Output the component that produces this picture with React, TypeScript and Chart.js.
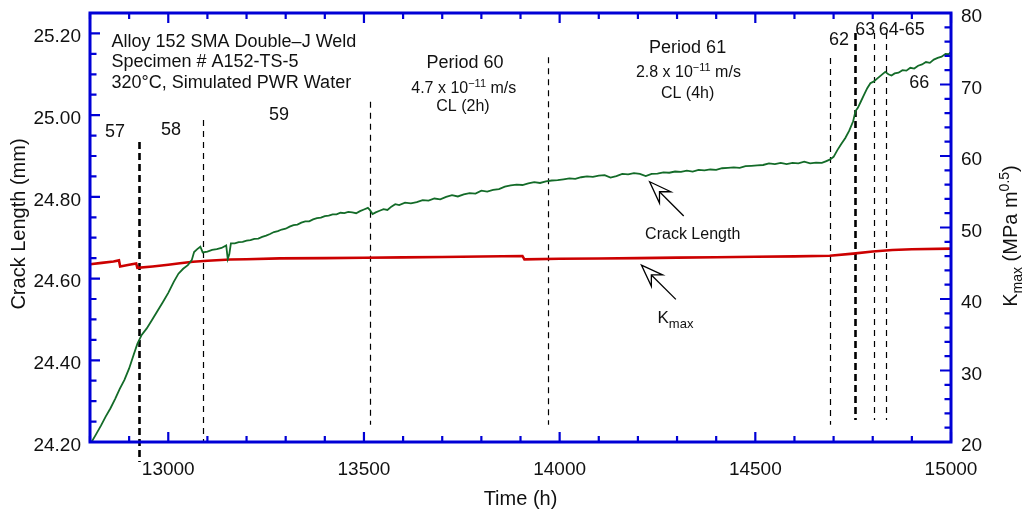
import React, { useEffect, useRef } from 'react';
import { Chart, registerables } from 'chart.js';

Chart.register(...registerables);

// ---------------- data ----------------
const crackTime = [
  12804, 12815, 12828, 12840, 12852, 12864, 12876, 12888, 12900, 12912, 12921, 12932, 12945, 12958, 12972,
  12986, 13000, 13014, 13026, 13038, 13050, 13060, 13066, 13074, 13082, 13088, 13100, 13112, 13124, 13136,
  13148, 13152, 13156, 13160, 13170, 13180, 13190, 13200, 13210, 13220, 13230, 13240, 13250, 13260, 13270,
  13280, 13290, 13300, 13310, 13320, 13330, 13340, 13350, 13360, 13370, 13380, 13390, 13400, 13410, 13420,
  13430, 13440, 13450, 13460, 13470, 13480, 13490, 13500, 13510, 13515, 13522, 13530, 13540, 13550, 13560,
  13570, 13580, 13590, 13605, 13620, 13635, 13650, 13665, 13680, 13695, 13710, 13725, 13740, 13755, 13770,
  13785, 13800, 13815, 13830, 13845, 13860, 13875, 13890, 13905, 13920, 13935, 13950, 13965, 13980, 13995,
  14010, 14025, 14040, 14055, 14070, 14085, 14100, 14115, 14130, 14145, 14160, 14175, 14190, 14205, 14220,
  14235, 14250, 14265, 14280, 14295, 14310, 14325, 14340, 14355, 14370, 14385, 14400, 14415, 14430, 14445,
  14460, 14475, 14490, 14505, 14520, 14535, 14550, 14565, 14580, 14595, 14610, 14625, 14640, 14655, 14670,
  14680, 14690, 14700, 14710, 14720, 14730, 14740, 14750, 14756, 14762, 14770, 14778, 14786, 14794, 14802,
  14812, 14822, 14832, 14840, 14848, 14856, 14866, 14876, 14886, 14896, 14906, 14916, 14926, 14936, 14946,
  14956, 14966, 14976, 14986, 14994, 15000,
];
const crackLength = [
  24.200, 24.218, 24.240, 24.262, 24.282, 24.305, 24.330, 24.352, 24.380, 24.415, 24.440, 24.462, 24.478, 24.498, 24.520,
  24.542, 24.565, 24.592, 24.612, 24.624, 24.633, 24.645, 24.665, 24.672, 24.678, 24.664, 24.666, 24.670, 24.672, 24.675,
  24.681, 24.648, 24.660, 24.686, 24.686, 24.689, 24.690, 24.693, 24.694, 24.697, 24.698, 24.702, 24.705, 24.709, 24.714,
  24.716, 24.720, 24.722, 24.727, 24.731, 24.732, 24.737, 24.740, 24.740, 24.745, 24.748, 24.749, 24.753, 24.754, 24.757,
  24.757, 24.761, 24.760, 24.763, 24.762, 24.760, 24.765, 24.769, 24.773, 24.768, 24.758, 24.762, 24.766, 24.770, 24.768,
  24.776, 24.782, 24.780, 24.786, 24.784, 24.787, 24.792, 24.791, 24.796, 24.794, 24.800, 24.804, 24.801, 24.806, 24.809,
  24.808, 24.815, 24.813, 24.817, 24.819, 24.825, 24.828, 24.830, 24.829, 24.833, 24.836, 24.834, 24.838, 24.840, 24.841,
  24.843, 24.845, 24.844, 24.848, 24.850, 24.849, 24.852, 24.853, 24.847, 24.851, 24.856, 24.855, 24.858, 24.856, 24.851,
  24.856, 24.857, 24.860, 24.859, 24.862, 24.861, 24.864, 24.862, 24.866, 24.865, 24.867, 24.866, 24.870, 24.871, 24.872,
  24.871, 24.875, 24.876, 24.877, 24.878, 24.882, 24.880, 24.883, 24.880, 24.883, 24.882, 24.886, 24.882, 24.884, 24.883,
  24.887, 24.891, 24.898, 24.915, 24.930, 24.944, 24.962, 24.985, 25.010, 25.018, 25.034, 25.050, 25.066, 25.078, 25.082,
  25.090, 25.098, 25.106, 25.100, 25.097, 25.102, 25.104, 25.110, 25.109, 25.116, 25.114, 25.121, 25.124, 25.130, 25.128,
  25.136, 25.140, 25.143, 25.150, 25.149, 25.155,
];

const kTime = [
  12800, 12830, 12860, 12874, 12877, 12900, 12918, 12921, 12960, 13000, 13030, 13063, 13100, 13158, 13200,
  13285, 13400, 13500, 13600, 13700, 13800, 13905, 13910, 14000, 14100, 14200, 14300, 14400, 14500, 14600,
  14690, 14750, 14800, 14850, 14900, 15000,
];
const kMax = [
  44.85, 45.05, 45.25, 45.40, 44.55, 44.80, 44.98, 44.35, 44.55, 44.80, 45.00, 45.20, 45.35, 45.52, 45.56,
  45.68, 45.71, 45.76, 45.82, 45.88, 45.94, 46.02, 45.55, 45.62, 45.66, 45.72, 45.78, 45.84, 45.90, 45.96,
  46.05, 46.35, 46.65, 46.85, 46.95, 47.05,
];

// period boundaries (time, top and bottom on the crack-length axis)
const markerTime = [12925, 13088, 13515, 13970, 14691, 14755, 14803, 14835];
const markerTop = [24.934, 24.988, 25.033, 25.142, 25.140, 25.201, 25.201, 25.201];
const markerBottom = [24.151, 24.200, 24.242, 24.242, 24.242, 24.254, 24.254, 24.254];
const markerBold = [true, false, false, false, false, true, false, false];

const xTicksMajor = 500;
const leftMajor = 0.2;
const rightMajor = 10;

// ---------------- styling ----------------
const FONT = "'Liberation Sans', Arial, Helvetica, sans-serif";
const BLUE = '#0000d6';
const GREEN = '#136b28';
const RED = '#cc0000';
const INK = '#111111';

type Part = { t: string; size: number; dy?: number };
type Note = { parts: Part[]; t: number; v: number; align: 'left' | 'center' };

const notes: Note[] = [
  { parts: [{ t: 'Alloy 152 SMA Double–J Weld', size: 18 }], t: 12855, v: 25.168, align: 'left' },
  { parts: [{ t: 'Specimen # A152-TS-5', size: 18 }], t: 12855, v: 25.119, align: 'left' },
  { parts: [{ t: '320°C, Simulated PWR Water', size: 18 }], t: 12855, v: 25.066, align: 'left' },
  { parts: [{ t: '57', size: 18 }], t: 12864, v: 24.947, align: 'center' },
  { parts: [{ t: '58', size: 18 }], t: 13007, v: 24.952, align: 'center' },
  { parts: [{ t: '59', size: 18 }], t: 13283, v: 24.987, align: 'center' },
  { parts: [{ t: 'Period 60', size: 18 }], t: 13758, v: 25.115, align: 'center' },
  {
    parts: [{ t: '4.7 x 10', size: 16 }, { t: '−11', size: 11, dy: -6 }, { t: ' m/s', size: 16 }],
    t: 13755, v: 25.054, align: 'center',
  },
  { parts: [{ t: 'CL (2h)', size: 16 }], t: 13753, v: 25.010, align: 'center' },
  { parts: [{ t: 'Period 61', size: 18 }], t: 14327, v: 25.152, align: 'center' },
  {
    parts: [{ t: '2.8 x 10', size: 16 }, { t: '−11', size: 11, dy: -6 }, { t: ' m/s', size: 16 }],
    t: 14329, v: 25.093, align: 'center',
  },
  { parts: [{ t: 'CL (4h)', size: 16 }], t: 14327, v: 25.041, align: 'center' },
  { parts: [{ t: '62', size: 18 }], t: 14714, v: 25.172, align: 'center' },
  { parts: [{ t: '63', size: 18 }], t: 14781, v: 25.196, align: 'center' },
  { parts: [{ t: '64-65', size: 18 }], t: 14874, v: 25.196, align: 'center' },
  { parts: [{ t: '66', size: 18 }], t: 14919, v: 25.066, align: 'center' },
  { parts: [{ t: 'Crack Length', size: 16 }], t: 14340, v: 24.698, align: 'center' },
  { parts: [{ t: 'K', size: 17 }, { t: 'max', size: 13, dy: 5 }], t: 14296, v: 24.491, align: 'center' },
];

// arrows: tail -> tip, in (time, crack-length axis) coordinates
const arrows = [
  { t0: 14317, v0: 24.753, t1: 14230, v1: 24.837 },
  { t0: 14297, v0: 24.549, t1: 14209, v1: 24.633 },
];

function richWidth(ctx: CanvasRenderingContext2D, parts: Part[]) {
  let w = 0;
  for (const p of parts) {
    ctx.font = `${p.size}px ${FONT}`;
    w += ctx.measureText(p.t).width;
  }
  return w;
}

function drawRich(ctx: CanvasRenderingContext2D, parts: Part[], x: number, y: number, align: 'left' | 'center') {
  let cx = align === 'center' ? x - richWidth(ctx, parts) / 2 : x;
  ctx.textAlign = 'left';
  ctx.textBaseline = 'alphabetic';
  for (const p of parts) {
    ctx.font = `${p.size}px ${FONT}`;
    ctx.fillText(p.t, cx, y + (p.dy || 0));
    cx += ctx.measureText(p.t).width;
  }
}

function drawArrow(ctx: CanvasRenderingContext2D, x0: number, y0: number, x1: number, y1: number) {
  const dx = x1 - x0;
  const dy = y1 - y0;
  const L = Math.hypot(dx, dy);
  const ux = dx / L;
  const uy = dy / L;
  const nx = -uy;
  const ny = ux;
  const headLen = 22;
  const half = 8;
  const notch = 14;
  const bx = x1 - ux * headLen;
  const by = y1 - uy * headLen;
  const mx = x1 - ux * notch;
  const my = y1 - uy * notch;
  ctx.beginPath();
  ctx.moveTo(x0, y0);
  ctx.lineTo(mx, my);
  ctx.stroke();
  ctx.beginPath();
  ctx.moveTo(x1, y1);
  ctx.lineTo(bx + nx * half, by + ny * half);
  ctx.lineTo(mx, my);
  ctx.lineTo(bx - nx * half, by - ny * half);
  ctx.closePath();
  ctx.fillStyle = '#ffffff';
  ctx.fill();
  ctx.stroke();
}

const isMultiple = (v: number, step: number) => Math.abs(Math.round(v / step) * step - v) < 1e-6;

const markerPlugin = {
  id: 'markers',
  beforeDatasetsDraw(chart: any) {
    const ctx: CanvasRenderingContext2D = chart.ctx;
    const xs = chart.scales.x;
    const yl = chart.scales.yL;
    ctx.save();
    ctx.strokeStyle = '#000';
    markerTime.forEach((t, i) => {
      const px = Math.round(xs.getPixelForValue(t)) + 0.5;
      ctx.lineWidth = markerBold[i] ? 2.6 : 1.2;
      ctx.setLineDash(markerBold[i] ? [7, 4] : [6, 5]);
      ctx.beginPath();
      ctx.moveTo(px, yl.getPixelForValue(markerTop[i]));
      ctx.lineTo(px, yl.getPixelForValue(markerBottom[i]));
      ctx.stroke();
    });
    ctx.restore();
  },
};

const framePlugin = {
  id: 'frame',
  afterDatasetsDraw(chart: any) {
    const ctx: CanvasRenderingContext2D = chart.ctx;
    const { left, right, top, bottom } = chart.chartArea;
    const xs = chart.scales.x;
    const yl = chart.scales.yL;
    const yr = chart.scales.yR;
    ctx.save();
    ctx.strokeStyle = BLUE;
    ctx.lineWidth = 2.2;
    ctx.beginPath();
    xs.ticks.forEach((tk: any) => {
      const px = xs.getPixelForValue(tk.value);
      const len = isMultiple(tk.value, xTicksMajor) ? 10 : 6;
      ctx.moveTo(px, bottom);
      ctx.lineTo(px, bottom - len);
      ctx.moveTo(px, top);
      ctx.lineTo(px, top + len);
    });
    yl.ticks.forEach((tk: any) => {
      const py = yl.getPixelForValue(tk.value);
      const len = isMultiple(tk.value - 24.2, leftMajor) ? 10 : 6.5;
      ctx.moveTo(left, py);
      ctx.lineTo(left + len, py);
    });
    yr.ticks.forEach((tk: any) => {
      const py = yr.getPixelForValue(tk.value);
      const len = isMultiple(tk.value, rightMajor) ? 11 : 6.5;
      ctx.moveTo(right, py);
      ctx.lineTo(right - len, py);
    });
    ctx.stroke();
    ctx.lineWidth = 3;
    ctx.strokeRect(left, top, right - left, bottom - top);

    // annotations
    ctx.fillStyle = INK;
    notes.forEach((n) => {
      drawRich(ctx, n.parts, xs.getPixelForValue(n.t), yl.getPixelForValue(n.v), n.align);
    });
    ctx.strokeStyle = '#000';
    ctx.lineWidth = 1.3;
    arrows.forEach((a) => {
      drawArrow(
        ctx,
        xs.getPixelForValue(a.t0), yl.getPixelForValue(a.v0),
        xs.getPixelForValue(a.t1), yl.getPixelForValue(a.v1),
      );
    });

    // axis titles
    ctx.fillStyle = INK;
    ctx.font = `20px ${FONT}`;
    ctx.textAlign = 'center';
    ctx.textBaseline = 'alphabetic';
    ctx.fillText('Time (h)', (left + right) / 2, 505);

    ctx.save();
    ctx.translate(25, 224);
    ctx.rotate(-Math.PI / 2);
    ctx.fillText('Crack Length (mm)', 0, 0);
    ctx.restore();

    const rparts: Part[] = [
      { t: 'K', size: 20 },
      { t: 'max', size: 14, dy: 5 },
      { t: ' (MPa m', size: 20 },
      { t: '0.5', size: 14, dy: -8 },
      { t: ')', size: 20 },
    ];
    ctx.save();
    ctx.translate(1017, 236);
    ctx.rotate(-Math.PI / 2);
    drawRich(ctx, rparts, 0, 0, 'center');
    ctx.restore();
    ctx.restore();
  },
};

const noPad = (s: any) => {
  s.paddingTop = 0;
  s.paddingBottom = 0;
  s.paddingLeft = 0;
  s.paddingRight = 0;
};

export default function App() {
  const ref = useRef<HTMLCanvasElement | null>(null);

  useEffect(() => {
    if (!ref.current) return;
    const crackData = crackTime.map((t, i) => ({ x: t, y: crackLength[i] }));
    const kData = kTime.map((t, i) => ({ x: t, y: kMax[i] }));
    const tickFont = { family: FONT, size: 19 };
    const chart = new Chart(ref.current, {
      type: 'line',
      data: {
        datasets: [
          {
            label: 'Crack Length',
            data: crackData,
            yAxisID: 'yL',
            borderColor: GREEN,
            borderWidth: 1.8,
            pointRadius: 0,
            tension: 0,
          },
          {
            label: 'Kmax',
            data: kData,
            yAxisID: 'yR',
            borderColor: RED,
            borderWidth: 2.6,
            pointRadius: 0,
            tension: 0,
          },
        ],
      },
      options: {
        responsive: false,
        animation: false,
        layout: { padding: { top: 13, left: 0, right: 0, bottom: 0 } },
        plugins: { legend: { display: false }, tooltip: { enabled: false } },
        scales: {
          x: {
            type: 'linear',
            position: 'bottom',
            min: 12800,
            max: 15000,
            grid: { display: false, drawTicks: false },
            border: { display: false },
            ticks: {
              stepSize: 100,
              autoSkip: false,
              maxRotation: 0,
              padding: 16,
              color: INK,
              font: tickFont,
              callback: (v: any) => (isMultiple(Number(v), xTicksMajor) ? String(v) : ''),
            },
            afterFit: (s: any) => {
              s.height = 71;
              noPad(s);
            },
          },
          yL: {
            type: 'linear',
            position: 'left',
            min: 24.2,
            max: 25.25,
            grid: { display: false, drawTicks: false },
            border: { display: false },
            ticks: {
              stepSize: 0.05,
              autoSkip: false,
              padding: 9,
              labelOffset: 3.5,
              color: INK,
              font: tickFont,
              callback: (v: any) => (isMultiple(Number(v) - 24.2, leftMajor) ? Number(v).toFixed(2) : ''),
            },
            afterFit: (s: any) => {
              s.width = 90;
              noPad(s);
            },
          },
          yR: {
            type: 'linear',
            position: 'right',
            min: 20,
            max: 80,
            grid: { display: false, drawTicks: false },
            border: { display: false },
            ticks: {
              stepSize: 2,
              autoSkip: false,
              padding: 10,
              labelOffset: 4,
              color: INK,
              font: tickFont,
              callback: (v: any) => (isMultiple(Number(v), rightMajor) ? String(v) : ''),
            },
            afterFit: (s: any) => {
              s.width = 75;
              noPad(s);
            },
          },
        },
      },
      plugins: [markerPlugin, framePlugin],
    });
    return () => chart.destroy();
  }, []);

  return (
    <div style={{ position: 'absolute', left: 0, top: 0, width: 1026, height: 513, background: '#fff' }}>
      <canvas ref={ref} width={1026} height={513} style={{ display: 'block' }} />
    </div>
  );
}
